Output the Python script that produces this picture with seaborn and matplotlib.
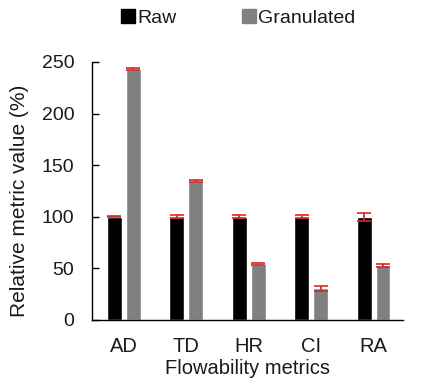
import numpy as np
import pandas as pd
import seaborn as sns
import matplotlib
matplotlib.use('Agg')
from matplotlib import pyplot as plt
from matplotlib.lines import Line2D

# format plots
sns.set_style("ticks")
plt.rcParams['font.family'] = ['Liberation Sans', 'DejaVu Sans']

# data
metrics = ['AD', 'TD', 'HR', 'CI', 'RA']
groups = ['Raw', 'Granulated']
raw_vals = [100, 100, 100, 100, 100]
raw_err = [0.5, 1.5, 1.5, 1.5, 4.0]
gran_vals = [243, 135, 54, 30.5, 53]
gran_err = [1.0, 1.0, 1.0, 2.5, 1.5]
colors = ['#000000', '#808080']

df = pd.DataFrame({
    'metric': metrics * 2,
    'group': ['Raw'] * 5 + ['Granulated'] * 5,
    'value': raw_vals + gran_vals,
})

fig = plt.figure(figsize=(4.26, 3.80), dpi=100)
ax = fig.add_axes([0.217, 0.158, 0.729, 0.679])
sns.barplot(data=df, x='metric', y='value', hue='group', order=metrics,
            hue_order=groups, palette=colors, width=0.6, gap=0.2,
            saturation=1, errorbar=None, legend=False, ax=ax)

# red error bars at bar centres
errs = raw_err + gran_err
vals = raw_vals + gran_vals
for patch, v, e in zip(ax.patches, vals, errs):
    xc = patch.get_x() + patch.get_width() / 2
    ax.errorbar(xc, v, yerr=e, color='#d42a2a', capsize=5, elinewidth=1.3,
                capthick=1.2, fmt='none', zorder=5)

txt = '#1a1a1a'
ax.set_ylim(0, 250)
ax.set_xlim(-0.5, 4.47)
ax.set_yticks(range(0, 251, 50))
ax.tick_params(axis='y', labelsize=14, length=5, width=1, color='black',
               direction='in', pad=13, labelcolor=txt)
ax.tick_params(axis='x', labelsize=14.5, length=0, pad=12, labelcolor=txt)
ax.set_xlabel('Flowability metrics', fontsize=14.5, labelpad=2.5, color=txt)
ax.set_ylabel('Relative metric value (%)', fontsize=15, color=txt)
ax.yaxis.set_label_coords(-0.205, 0.46)
sns.despine(ax=ax)
for s in ['left', 'bottom']:
    ax.spines[s].set_color('black')
    ax.spines[s].set_linewidth(1)

handles = [Line2D([], [], marker='s', linestyle='none', markersize=10,
                  color=c) for c in colors]
fig.legend(handles, groups, loc='center', bbox_to_anchor=(0.558, 0.953),
           ncol=2, frameon=False, fontsize=14, handletextpad=0.1,
           columnspacing=3.3, handlelength=0.8, labelcolor=txt)

fig.savefig('out.png', dpi=100)
